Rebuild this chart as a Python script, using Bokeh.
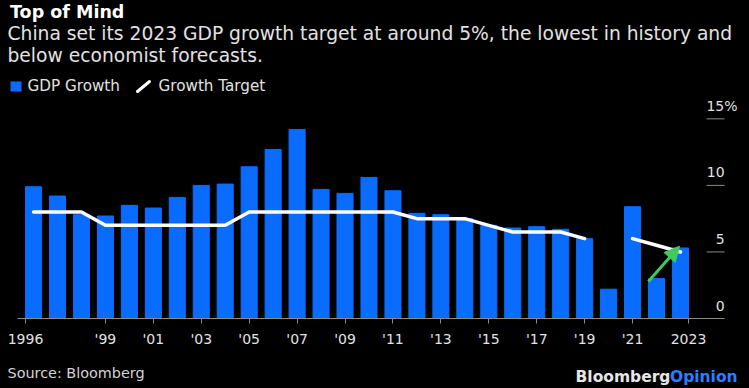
from bokeh.plotting import figure
from bokeh.layouts import column
from bokeh.core.properties import value
from bokeh.models import (Range1d, FixedTicker, LabelSet, ColumnDataSource,
                          Arrow, NormalHead, BoxAnnotation)
from bokeh.embed import file_html
from bokeh.resources import INLINE

nan = float("nan")

# ---- data ----
years = list(range(1996, 2024))
gdp_growth = [9.9, 9.2, 7.8, 7.7, 8.5, 8.3, 9.1, 10.0, 10.1, 11.4,
              12.7, 14.2, 9.7, 9.4, 10.6, 9.6, 7.9, 7.8, 7.5, 7.0,
              6.8, 6.9, 6.7, 6.0, 2.2, 8.4, 3.0, 5.3]
growth_target = [8.0, 8.0, 8.0, 7.0, 7.0, 7.0, 7.0, 7.0, 7.0, 8.0,
                 8.0, 8.0, 8.0, 8.0, 8.0, 8.0, 7.5, 7.5, 7.5, 7.0,
                 6.5, 6.5, 6.5, 6.0, nan, 6.0, 5.5, 5.0]
x_tick_years = [1996, 1999, 2001, 2003, 2005, 2007, 2009, 2011, 2013,
                2015, 2017, 2019, 2021, 2023]
x_tick_labels = ["1996", "'99", "'01", "'03", "'05", "'07", "'09", "'11",
                 "'13", "'15", "'17", "'19", "'21", "2023"]
y_ticks = [0, 5, 10, 15]
y_tick_labels = ["0", "5", "10", "15%"]

title = "Top of Mind"
subtitle_1 = "China set its 2023 GDP growth target at around 5%, the lowest in history and"
subtitle_2 = "below economist forecasts."
legend_labels = ["GDP Growth", "Growth Target"]
source_note = "Source: Bloomberg"

# ---- style ----
BLUE = "#0a6cff"
GREEN = "#41c95b"
TXT = "#e2e2e2"
AXIS = "#8a8a8a"
FONT = "DejaVu Sans"
BAR_W = 0.67
W = 749
PX_PER_YEAR = 23.96
PX_PER_PCT = 13.31
HEAD_BOTTOM = 96    # page y where the chart area starts
AXIS_Y = 318        # page y of the x axis
FOOT_TOP = 355


def style(f):
    f.background_fill_color = "black"
    f.border_fill_color = "black"
    f.outline_line_color = None
    f.grid.visible = False


def blank_fig(top, bottom):
    # a strip of the page whose data units are page pixels (y grows downward)
    f = figure(width=W, height=bottom - top, x_range=Range1d(0, W),
               y_range=Range1d(bottom, top), output_backend="svg",
               toolbar_location=None, x_axis_location=None,
               y_axis_location=None, title=None,
               min_border_left=0, min_border_right=0,
               min_border_top=0, min_border_bottom=0)
    style(f)
    return f


def txt(f, text, x, y, size, color=TXT, bold=False):
    src = ColumnDataSource(dict(x=[x], y=[y], text=[text]))
    f.add_layout(LabelSet(x="x", y="y", text="text", source=src,
                          text_font=value(FONT), text_font_size=size,
                          text_color=color, text_baseline="alphabetic",
                          text_align="left",
                          text_font_style="bold" if bold else "normal"))


# ---------- header (title, subtitle, legend) ----------
head = blank_fig(0, HEAD_BOTTOM)
txt(head, title, 9.5, 17.3, "17.5px", "white", True)
txt(head, subtitle_1, 7, 39.5, "18.7px")
txt(head, subtitle_2, 7, 61.7, "18.7px")
txt(head, legend_labels[0], 27, 90.5, "15.2px")
txt(head, legend_labels[1], 158, 90.5, "15.2px")
head.add_layout(BoxAnnotation(left=10, right=21, top=81, bottom=91,
                              fill_color=BLUE, fill_alpha=1, line_color=None))
head.add_layout(Arrow(x_start=137, y_start=91, x_end=149, y_end=81,
                      start=None, end=None, line_color="white",
                      line_width=3, line_cap="round"))

# ---------- main chart ----------
x_axis_start = 1995.33
x_axis_end = 2024.84
x_lo = x_axis_start - 17 / PX_PER_YEAR
x_hi = x_lo + W / PX_PER_YEAR
y_hi = (AXIS_Y - HEAD_BOTTOM) / PX_PER_PCT
p = figure(width=W, height=FOOT_TOP - HEAD_BOTTOM, x_range=Range1d(x_lo, x_hi),
           y_range=Range1d(0, y_hi), output_backend="svg", title=None,
           toolbar_location=None, y_axis_location=None,
           min_border_left=0, min_border_right=0,
           min_border_top=0, min_border_bottom=FOOT_TOP - AXIS_Y)
style(p)

p.vbar(x=years, top=gdp_growth, width=BAR_W, bottom=0, color=BLUE)
p.line(years, growth_target, line_width=3.5, color="white",
       line_join="round", line_cap="round")

# x axis: first and last ticks at the outer bar edges
tick_pos = list(x_tick_years)
tick_pos[0] = round(tick_pos[0] - BAR_W / 2, 3)
tick_pos[-1] = round(tick_pos[-1] + BAR_W / 2, 3)
xa = p.xaxis[0]
xa.bounds = (x_axis_start, x_axis_end)
xa.ticker = FixedTicker(ticks=tick_pos)
xa.major_label_overrides = {t: l for t, l in zip(tick_pos, x_tick_labels)}
xa.minor_tick_line_color = None
xa.major_tick_in = 0
xa.major_tick_out = 5
xa.axis_line_color = AXIS
xa.major_tick_line_color = AXIS
xa.major_label_standoff = 7
xa.major_label_text_font = FONT
xa.major_label_text_font_size = "14px"
xa.major_label_text_color = TXT

# y scale: short tick stubs at the right end of the axis, labels above them
stub = 18 / PX_PER_YEAR
p.segment(x0=[x_axis_end - stub] * len(y_ticks), x1=[x_axis_end] * len(y_ticks),
          y0=y_ticks, y1=y_ticks, line_color=AXIS, line_width=1)
ysrc = ColumnDataSource(dict(
    y=y_ticks, text=y_tick_labels,
    xo=[13 if t.endswith("%") else 0 for t in y_tick_labels]))
p.add_layout(LabelSet(x=x_axis_end, y="y", text="text", source=ysrc,
                      x_offset="xo", y_offset=8, text_align="right",
                      text_baseline="alphabetic", text_font=value(FONT),
                      text_font_size="14px", text_color=TXT))

# annotation arrow
p.add_layout(Arrow(x_start=2021.66, y_start=2.78, x_end=2022.96, y_end=5.43,
                   line_color=GREEN, line_width=3,
                   end=NormalHead(size=15, fill_color=GREEN, line_color=GREEN)))

# ---------- footer ----------
foot = blank_fig(FOOT_TOP, 388)
txt(foot, source_note, 7, 377, "14.4px", "#d4d4d4")
txt(foot, "Bloomberg", 575, 381, "15.5px", "#e6e6e6", True)
txt(foot, "Opinion", 669.5, 381, "15.5px", "#2a7fff", True)

layout = column(head, p, foot, spacing=0)
html = file_html(layout, INLINE, title="China GDP growth vs target")
html = html.replace(
    "</head>",
    "<style>html,body{margin:0 !important;padding:0 !important;"
    "background:#000000 !important;overflow:hidden;}</style></head>", 1)
open("out.html", "w").write(html)
